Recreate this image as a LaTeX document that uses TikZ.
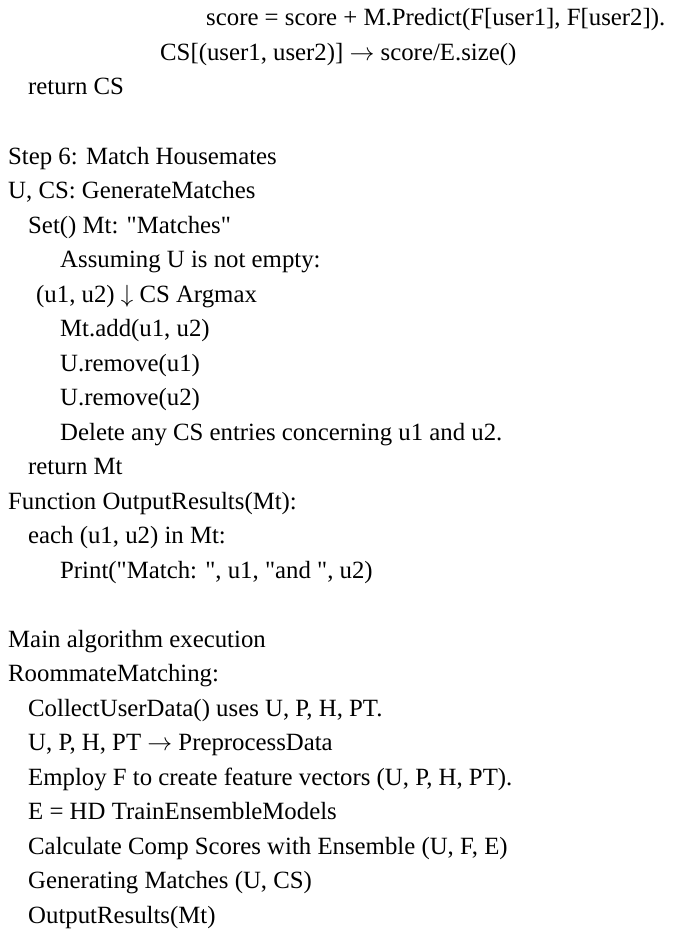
\documentclass[tikz,border=0pt]{standalone}
\usepackage{fontspec}
\setmainfont{Liberation Serif}
\newfontfamily\plainfont{Liberation Serif}
\newcommand{\dq}{{\plainfont"}}
\begin{document}
\begin{tikzpicture}[x=1pt,y=-1pt,every node/.style={anchor=base west,inner sep=0pt,font=\fontsize{24.8}{28}\selectfont}]
\useasboundingbox (0,0) rectangle (685,934);
\def\sp{34.5}
\node (l1) at (206,26) {score = score + M.Predict(F[user1], F[user2]).};
\node (l2) at (160,26+\sp) {CS[(user1, user2)] $\rightarrow$ score/E.size()};
\node (l3) at (28,26+2*\sp) {return CS};
\node (l4) at (8,26+4*\sp) {Step 6: Match Housemates};
\node (l5) at (8,26+5*\sp) {U, CS: GenerateMatches};
\node (l6) at (28,26+6*\sp) {Set() Mt: \dq Matches\dq};
\node (l7) at (60,26+7*\sp) {Assuming U is not empty:};
\node (l8) at (36,26+8*\sp) {(u1, u2) $\downarrow$ CS Argmax};
\node (l9) at (60,26+9*\sp) {Mt.add(u1, u2)};
\node (l10) at (60,26+10*\sp) {U.remove(u1)};
\node (l11) at (60,26+11*\sp) {U.remove(u2)};
\node (l12) at (60,26+12*\sp) {Delete any CS entries concerning u1 and u2.};
\node (l13) at (28,26+13*\sp) {return Mt};
\node (l14) at (8,26+14*\sp) {Function OutputResults(Mt):};
\node (l15) at (28,26+15*\sp) {each (u1, u2) in Mt:};
\node (l16) at (60,26+16*\sp) {Print(\dq Match: \dq, u1, \dq and \dq, u2)};
\node (l17) at (8,26+18*\sp) {Main algorithm execution};
\node (l18) at (8,26+19*\sp) {RoommateMatching:};
\node (l19) at (28,26+20*\sp) {CollectUserData() uses U, P, H, PT.};
\node (l20) at (28,26+21*\sp) {U, P, H, PT $\rightarrow$ PreprocessData};
\node (l21) at (28,26+22*\sp) {Employ F to create feature vectors (U, P, H, PT).};
\node (l22) at (28,26+23*\sp) {E = HD TrainEnsembleModels};
\node (l23) at (28,26+24*\sp) {Calculate Comp Scores with Ensemble (U, F, E)};
\node (l24) at (28,26+25*\sp) {Generating Matches (U, CS)};
\node (l25) at (28,26+26*\sp) {OutputResults(Mt)};
\end{tikzpicture}
\end{document}
